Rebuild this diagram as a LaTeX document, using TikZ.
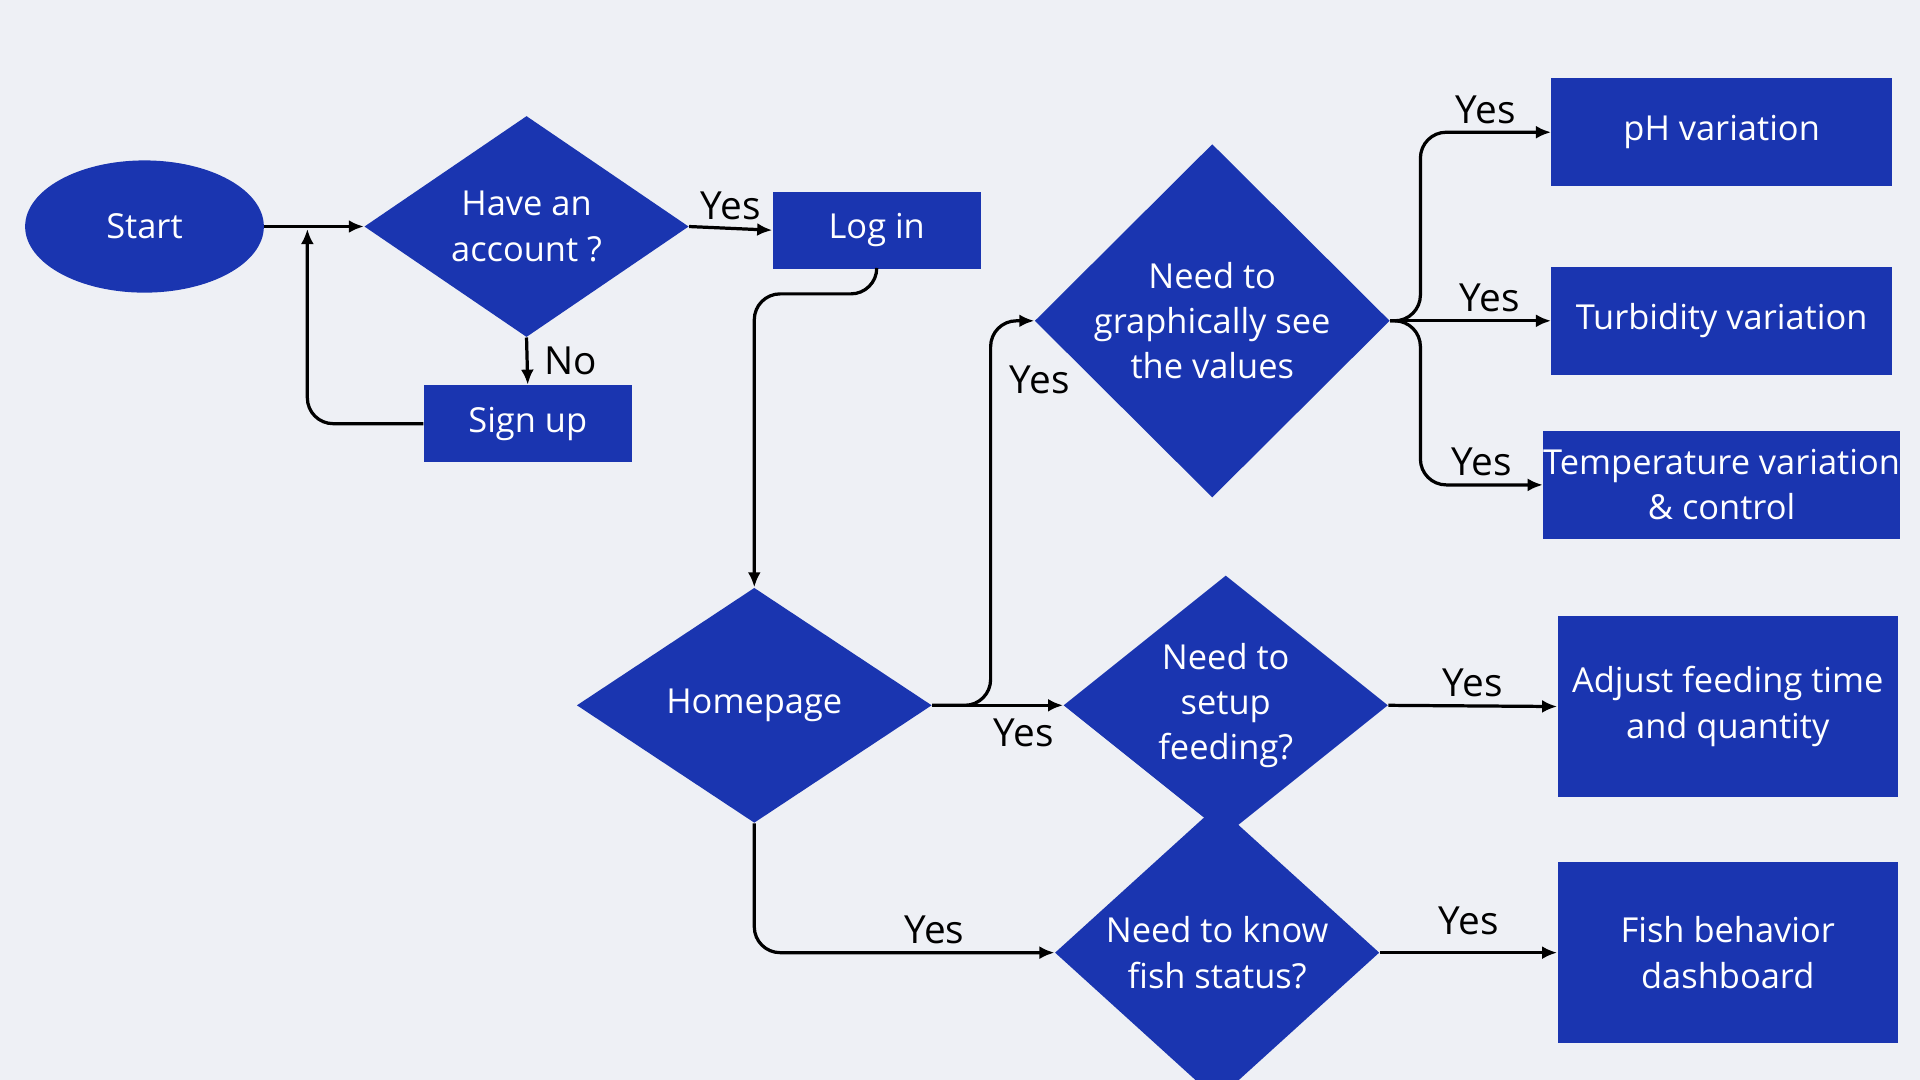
\documentclass[tikz,border=0pt]{standalone}
\usepackage{fontspec}
\setmainfont{Open Sans}
\usetikzlibrary{shapes.geometric,positioning,arrows.meta}
\definecolor{bg}{HTML}{EEF0F5}
\definecolor{flowblue}{HTML}{1A35B0}
\tikzset{
  box/.style={fill=flowblue, text=white, align=center, inner sep=0pt,
    font=\fontsize{16}{21}\selectfont},
  rbox/.style={box, rectangle},
  dbox/.style={box, diamond},
  ebox/.style={box, ellipse},
  flow/.style={-{Latex[length=7pt,width=6pt]}, line width=1.5pt, rounded corners=12pt},
  lab/.style={font=\fontsize{18}{20}\selectfont, text=black}
}
\begin{document}
\begin{tikzpicture}[x=0.02cm, y=-0.02cm]
  \useasboundingbox[fill=bg] (0,0) rectangle (1568,882);
  % nodes
  \node (start) [ebox, minimum width=3.9cm, minimum height=2.16cm] at (118,185) {Start};
  \node (account) [dbox, minimum width=5.3cm, minimum height=2.84cm] at (430,185) {Have an\\account ?};
  \node (login) [rbox, minimum width=3.4cm, minimum height=1.26cm] at (716,188) {Log in};
  \node (signup) [rbox, minimum width=3.4cm, minimum height=1.26cm] at (431,346) {Sign up};
  \node (home) [dbox, minimum width=5.8cm, minimum height=3.84cm] at (616,576) {Homepage};
  \node (graph) [dbox, minimum width=5.8cm, minimum height=3.84cm] at (990,262) {Need to\\graphically see\\the values};
  \node (feed) [dbox, minimum width=5.3cm, minimum height=3.52cm] at (1001,576) {Need to\\setup\\feeding?};
  \node (fish) [dbox, minimum width=5.3cm, minimum height=3.24cm] at (994,778) {Need to know\\fish status?};
  \node (ph) [rbox, minimum width=5.56cm, minimum height=1.76cm] at (1406,108) {pH variation};
  \node (turb) [rbox, minimum width=5.56cm, minimum height=1.76cm] at (1406,262) {Turbidity variation};
  \node (temp) [rbox, minimum width=5.56cm, minimum height=1.76cm] at (1406,396) {Temperature variation\\\& control};
  \node (adjust) [rbox, minimum width=5.56cm, minimum height=2.96cm] at (1411,577) {Adjust feeding time\\and quantity};
  \node (dash) [rbox, minimum width=5.56cm, minimum height=2.96cm] at (1411,778) {Fish behavior\\dashboard};
  % connectors
  \draw[flow] (start) -- (account);
  \draw[flow] (account.east) -- node[lab, above] {Yes} (login.west);
  \draw[flow] (account.south) -- node[lab, right=4pt] {No} (signup.north);
  \draw[flow] (signup.west) -| (251,187);
  \draw[flow] (login.south) |- (616,240) -- (home.north);
  \draw[flow] (home.east) -- node[lab, below=2pt, pos=0.7] {Yes} (feed.west);
  \draw[flow] (home.east) -| (809,262) -- (graph.west);
  \node[lab] at (849,310) {Yes};
  \draw[flow] (home.south) |- node[lab, above, pos=0.8] {Yes} (fish.west);
  \draw[flow] (graph.east) -| (1160,108) -- node[lab, above, pos=0.5] {Yes} (ph.west);
  \draw[flow] (graph.east) -- node[lab, above, pos=0.62] {Yes} (turb.west);
  \draw[flow] (graph.east) -| (1160,396) -- node[lab, above, pos=0.5] {Yes} (temp.west);
  \draw[flow] (feed.east) -- node[lab, above] {Yes} (adjust.west);
  \draw[flow] (fish.east) -- node[lab, above=4pt] {Yes} (dash.west);
\end{tikzpicture}
\end{document}
